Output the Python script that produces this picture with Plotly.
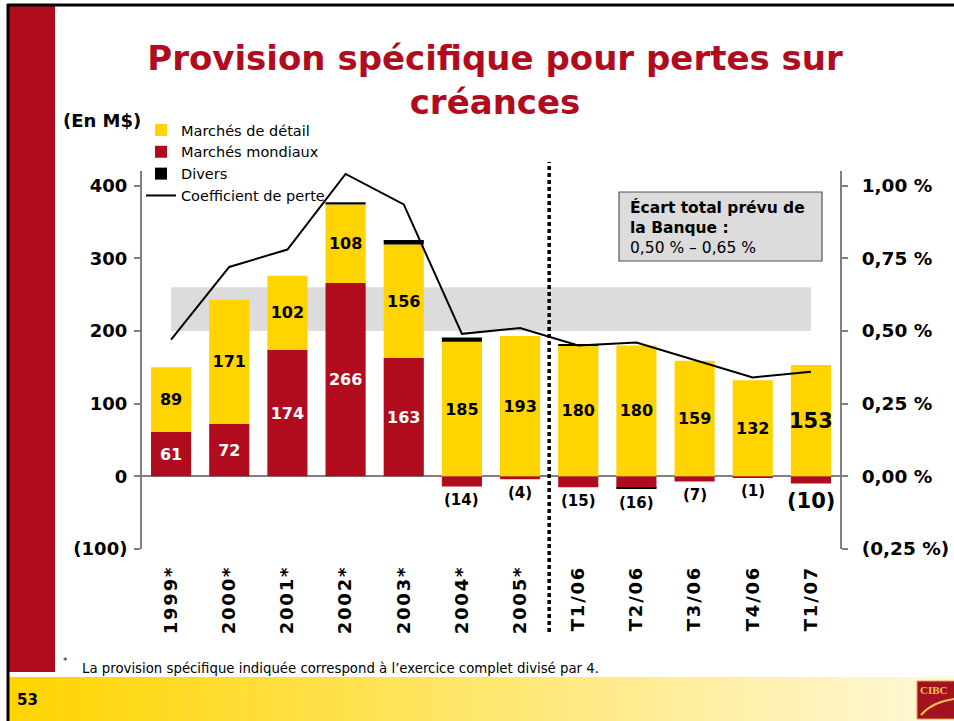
import plotly.graph_objects as go

# ---------------- data ----------------
categories = ["1999*", "2000*", "2001*", "2002*", "2003*", "2004*", "2005*",
              "T1/06", "T2/06", "T3/06", "T4/06", "T1/07"]
marches_detail = [89, 171, 102, 108, 156, 185, 193, 180, 180, 159, 132, 153]
marches_mondiaux = [61, 72, 174, 266, 163, -14, -4, -15, -16, -7, -1, -10]
divers = [0, 0, 0, 3, 6, 6, 0, 2, -1, 0, 0, 0]
coefficient_perte = [0.47, 0.72, 0.78, 1.04, 0.935, 0.49, 0.51, 0.45, 0.46, 0.40, 0.34, 0.36]
ecart_prevu = [0.50, 0.65]
left_ticks = [-100, 0, 100, 200, 300, 400]
left_ticktext = ["(100)", "0", "100", "200", "300", "400"]
right_ticks = [-0.25, 0, 0.25, 0.50, 0.75, 1.00]
right_ticktext = ["(0,25 %)", "0,00 %", "0,25 %", "0,50 %", "0,75 %", "1,00 %"]

YELLOW = "#FFD400"
RED = "#B00C1E"
GREY = "#808080"
FONT = "DejaVu Sans, Verdana, sans-serif"

# plot area in pixels (954x721 page)
L, R, T, B = 142, 840, 171, 549
W_PX, H_PX = 954, 721


def px(x):
    return (x - L) / (R - L)


def py(y):
    return (B - y) / (B - T)


last = len(categories) - 1
fig = go.Figure()

# Marchés mondiaux (bottom of stack)
red_text = [str(v) if v > 0 else "" for v in marches_mondiaux]
fig.add_trace(go.Bar(
    x=categories, y=marches_mondiaux, name="Marchés mondiaux",
    marker=dict(color=RED, line=dict(width=0)),
    text=red_text, textposition="inside", insidetextanchor="middle",
    textangle=0, constraintext="none",
    textfont=dict(family=FONT, size=16, color="white", weight="bold"),
    legendrank=2, hoverinfo="skip"))

# Marchés de détail
yellow_sizes = [16] * last + [21]
fig.add_trace(go.Bar(
    x=categories, y=marches_detail, name="Marchés de détail",
    marker=dict(color=YELLOW, line=dict(width=0)),
    text=[str(v) for v in marches_detail], textposition="inside", insidetextanchor="middle",
    textangle=0, constraintext="none",
    textfont=dict(family=FONT, size=yellow_sizes, color="black", weight="bold"),
    legendrank=1, hoverinfo="skip"))

# Divers
fig.add_trace(go.Bar(
    x=categories, y=divers, name="Divers",
    marker=dict(color="black", line=dict(width=0)),
    legendrank=3, hoverinfo="skip"))

# Coefficient de perte
fig.add_trace(go.Scatter(
    x=categories, y=coefficient_perte, name="Coefficient de perte", yaxis="y2",
    mode="lines", line=dict(color="black", width=2),
    legendrank=4, hoverinfo="skip"))

shapes = []
annotations = []

# red stripe
shapes.append(dict(type="rect", xref="paper", yref="paper",
                   x0=px(9), x1=px(55), y0=py(6), y1=py(672),
                   fillcolor=RED, line=dict(width=0), layer="below"))
# footer gradient
n = 80
c0 = (255, 212, 0)
c1 = (255, 248, 218)
x_start, x_end = 9, 954
for i in range(n):
    t = i / (n - 1)
    col = tuple(int(round(c0[k] + (c1[k] - c0[k]) * t)) for k in range(3))
    xa = x_start + (x_end - x_start) * i / n
    xb = x_start + (x_end - x_start) * (i + 1) / n + 0.6
    shapes.append(dict(type="rect", xref="paper", yref="paper",
                       x0=px(xa), x1=px(xb), y0=py(677), y1=py(722),
                       fillcolor="rgb(%d,%d,%d)" % col, line=dict(width=0), layer="below"))
# frame
shapes.append(dict(type="line", xref="paper", yref="paper",
                   x0=px(7), x1=px(955), y0=py(5), y1=py(5),
                   line=dict(color="black", width=3)))
shapes.append(dict(type="line", xref="paper", yref="paper",
                   x0=px(8), x1=px(8), y0=py(4), y1=py(722),
                   line=dict(color="black", width=3)))

# grey expected-range band
shapes.append(dict(type="rect", xref="x", yref="y2",
                   x0=0, x1=last, y0=ecart_prevu[0], y1=ecart_prevu[1],
                   fillcolor="#DCDCDC", line=dict(width=0), layer="below"))

# dotted separator
shapes.append(dict(type="line", xref="x", yref="paper",
                   x0=6.5, x1=6.5, y0=py(632), y1=py(162),
                   line=dict(color="black", width=3.5, dash="4px,3px")))

# info box
shapes.append(dict(type="rect", xref="paper", yref="paper",
                   x0=px(619), x1=px(822), y0=py(261), y1=py(192),
                   fillcolor="#DCDCDC", line=dict(color="#555555", width=1.2)))
annotations.append(dict(xref="paper", yref="paper", x=px(628), y=py(227),
                        xanchor="left", yanchor="middle", align="left", showarrow=False,
                        text="<b>Écart total prévu de<br>la Banque :</b><br>0,50 % – 0,65 %",
                        font=dict(family=FONT, size=15.5, color="black")))

# negative labels
for i, v in enumerate(marches_mondiaux):
    if v < 0:
        annotations.append(dict(x=categories[i], y=v + min(divers[i], 0), xref="x", yref="y",
                                yanchor="top", yshift=-3, showarrow=False,
                                text="(%d)" % abs(v),
                                font=dict(family=FONT, size=21 if i == last else 15,
                                          color="black", weight="bold")))

# units
annotations.append(dict(xref="paper", yref="paper", x=px(102), y=py(120),
                        xanchor="center", yanchor="middle", showarrow=False,
                        text="<b>(En M$)</b>", font=dict(family=FONT, size=18, color="black")))
# footnote
annotations.append(dict(xref="paper", yref="paper", x=px(61), y=py(661),
                        xanchor="left", yanchor="middle", showarrow=False,
                        text="*", font=dict(family=FONT, size=9, color="black")))
annotations.append(dict(xref="paper", yref="paper", x=px(80), y=py(668),
                        xanchor="left", yanchor="middle", showarrow=False,
                        text="La provision spécifique indiquée correspond à l’exercice complet divisé par 4.",
                        font=dict(family=FONT, size=13.3, color="black")))
# page number
annotations.append(dict(xref="paper", yref="paper", x=px(15), y=py(700),
                        xanchor="left", yanchor="middle", showarrow=False,
                        text="<b>53</b>", font=dict(family=FONT, size=15, color="black")))
# logo
shapes.append(dict(type="rect", xref="paper", yref="paper",
                   x0=px(917), x1=px(956), y0=py(719), y1=py(681),
                   fillcolor="#A3121F", line=dict(color="#D9A441", width=1)))
shapes.append(dict(type="path", xref="paper", yref="paper",
                   path="M %f %f Q %f %f %f %f" % (px(921), py(715), px(932), py(702), px(954), py(699)),
                   line=dict(color="#F2C14E", width=2)))
annotations.append(dict(xref="paper", yref="paper", x=px(918), y=py(690),
                        xanchor="left", yanchor="middle", showarrow=False,
                        text="<b>CIBC</b>", font=dict(family="Liberation Serif, serif", size=11, color="#F2C14E")))

tick_labels = ["\u200a".join(list(c)) for c in categories]

fig.update_layout(
    width=W_PX, height=H_PX, autosize=False,
    margin=dict(l=L, r=W_PX - R, t=T, b=H_PX - B, pad=0, autoexpand=False),
    paper_bgcolor="white", plot_bgcolor="rgba(0,0,0,0)",
    barmode="relative", bargap=0.31,
    title=dict(text="Provision spécifique pour pertes sur<br>créances",
               x=495 / W_PX, xanchor="center", y=1 - 70 / H_PX, yanchor="middle",
               font=dict(family=FONT, size=34, color=RED, weight="bold")),
    font=dict(family=FONT, color="black"),
    showlegend=True,
    legend=dict(x=px(141), y=py(114), xanchor="left", yanchor="top",
                bgcolor="rgba(0,0,0,0)", font=dict(family=FONT, size=14.5, color="black"),
                tracegroupgap=0, itemwidth=30, traceorder="normal"),
    xaxis=dict(type="category", range=[-0.5, last + 0.5], showline=False, showgrid=False,
               zeroline=False, ticks="", tickangle=-90, tickmode="array", automargin=False,
               tickvals=categories, ticktext=tick_labels, ticklabelstandoff=14,
               tickfont=dict(family=FONT, size=18, color="black", weight="bold")),
    yaxis=dict(range=[-100, 420], tickvals=left_ticks, ticktext=left_ticktext,
               showgrid=False, showline=True, linecolor=GREY, linewidth=2, automargin=False,
               ticks="outside", ticklen=6, tickcolor=GREY, tickwidth=1.5,
               zeroline=True, zerolinecolor=GREY, zerolinewidth=1.5,
               ticklabelstandoff=3,
               tickfont=dict(family=FONT, size=18, color="black", weight="bold")),
    yaxis2=dict(range=[-0.25, 1.05], overlaying="y", side="right", automargin=False,
                tickvals=right_ticks, ticktext=right_ticktext,
                showgrid=False, showline=True, linecolor=GREY, linewidth=2,
                ticks="outside", ticklen=6, tickcolor=GREY, tickwidth=1.5,
                zeroline=False, ticklabelstandoff=10,
                tickfont=dict(family=FONT, size=18.5, color="black", weight="bold")),
    shapes=shapes, annotations=annotations,
)

fig.write_html("out.html", config={"displayModeBar": False, "responsive": False},
               post_script="document.body.style.margin='0';document.body.style.overflow='hidden';")
